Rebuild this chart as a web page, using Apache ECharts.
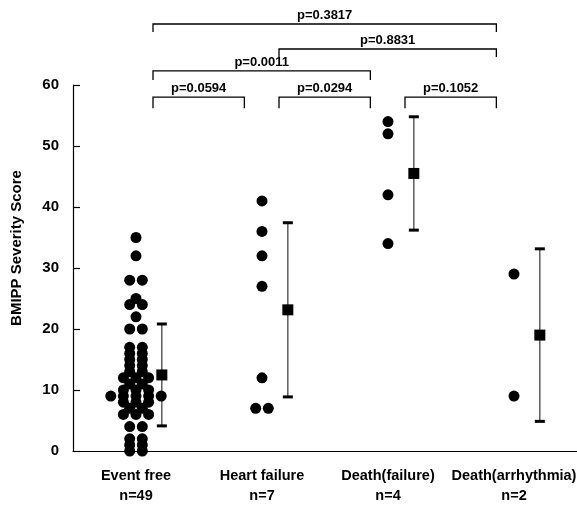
<!DOCTYPE html>
<html>
<head>
<meta charset="utf-8">
<script src="https://cdn.jsdelivr.net/npm/echarts@6/dist/echarts.min.js"></script>
<style>
  html, body { margin: 0; padding: 0; background: #fff; }
  #chart { width: 577px; height: 512px; }
</style>
</head>
<body>
<div id="chart"></div>
<script>
// Groups shown along the horizontal axis
const groups = ['Event free', 'Heart failure', 'Death(failure)', 'Death(arrhythmia)'];

// BMIPP severity score of every patient, one array per group
const eventFree = [35, 32, 28, 28, 25, 24, 24, 22, 20, 20, 17, 17, 16, 16, 15, 15, 14, 14,
  13, 13, 12, 12, 12, 11, 11, 10, 10, 10, 9, 9, 9, 9, 9, 8, 8, 8, 7, 7, 6, 6, 6,
  4, 4, 2, 2, 1, 1, 0, 0];
const heartFailure = [41, 36, 32, 27, 12, 7, 7];
const deathFailure = [54, 52, 42, 34];
const deathArrhythmia = [29, 9];

// Y axis ticks
const yTicks = [0, 10, 20, 30, 40, 50, 60];

// Pairwise comparisons: group indices and p values
const compFrom = [0, 1, 2, 0, 1, 0];
const compTo   = [1, 2, 3, 2, 3, 3];
const compP    = ['0.0594', '0.0294', '0.1052', '0.0011', '0.8831', '0.3817'];

const groupValues = [eventFree, heartFailure, deathFailure, deathArrhythmia];

// ---- layout helpers ----
const FONT = '"Liberation Sans", Arial, Helvetica, sans-serif';
const dotStep = 0.1;        // horizontal spacing of equal values (in group units)
const statOffset = 0.205;   // mean ± SD marker sits to the right of the dots
const bracketLevel = [0, 0, 0, 1, 2, 3];
const levelY = [58.0, 62.3, 65.9, 70.0];
const levelDrop = [1.8, 1.5, 1.3, 1.3];
const insetL = 0.135, insetR = 0.14;

// Dot plot: equal values are spread symmetrically around the group centre
const dots = [];
groupValues.forEach((vals, g) => {
  const counts = {};
  vals.forEach(v => { counts[v] = (counts[v] || 0) + 1; });
  const seen = {};
  vals.forEach(v => {
    const k = seen[v] || 0;
    seen[v] = k + 1;
    const off = (k - (counts[v] - 1) / 2) * dotStep;
    dots.push([g + off, v]);
  });
});

// Mean and sample standard deviation per group
const stats = groupValues.map((vals, g) => {
  const n = vals.length;
  const mean = vals.reduce((a, b) => a + b, 0) / n;
  const sd = Math.sqrt(vals.reduce((a, b) => a + (b - mean) * (b - mean), 0) / (n - 1));
  return [g + statOffset, mean, sd];
});

const chart = echarts.init(document.getElementById('chart'));
chart.setOption({
  animation: false,
  backgroundColor: '#fff',
  grid: { left: 73, right: 0, top: 85, bottom: 61, containLabel: false, outerBoundsMode: 'none' },
  xAxis: [
    {
      type: 'category',
      data: groups,
      boundaryGap: true,
      axisLine: { show: true, onZero: false, lineStyle: { color: '#000', width: 1.2 } },
      axisTick: { show: false },
      splitLine: { show: false },
      axisLabel: {
        interval: 0,
        margin: 15,
        color: '#000',
        fontFamily: FONT,
        fontWeight: 'bold',
        fontSize: 14.5,
        lineHeight: 20,
        formatter: (name, i) => name + '\nn=' + groupValues[i].length
      }
    },
    {
      type: 'value',
      min: -0.5,
      max: 3.5,
      show: false
    }
  ],
  yAxis: {
    type: 'value',
    min: yTicks[0],
    max: yTicks[yTicks.length - 1],
    interval: yTicks[1] - yTicks[0],
    axisLine: { show: true, onZero: false, lineStyle: { color: '#000', width: 1.2 } },
    axisTick: { show: true, inside: true, length: 7, lineStyle: { color: '#000', width: 1.2 } },
    splitLine: { show: false },
    axisLabel: {
      margin: 14,
      color: '#000',
      fontFamily: FONT,
      fontWeight: 'bold',
      fontSize: 15
    }
  },
  graphic: [
    {
      type: 'text',
      x: 17,
      y: 248,
      rotation: Math.PI / 2,
      style: {
        text: 'BMIPP Severity Score',
        font: 'bold 15px ' + FONT,
        fill: '#000',
        align: 'center',
        verticalAlign: 'middle'
      }
    }
  ],
  series: [
    {
      name: 'patients',
      type: 'scatter',
      xAxisIndex: 1,
      data: dots,
      symbol: 'circle',
      symbolSize: 11,
      itemStyle: { color: '#000', opacity: 1 },
      z: 3
    },
    {
      name: 'sd',
      type: 'custom',
      xAxisIndex: 1,
      data: stats,
      renderItem: (params, api) => {
        const x = api.value(0), m = api.value(1), s = api.value(2);
        const top = api.coord([x, m + s]);
        const bot = api.coord([x, m - s]);
        const capW = 10, capH = 3;
        return {
          type: 'group',
          children: [
            { type: 'line', shape: { x1: top[0], y1: top[1], x2: bot[0], y2: bot[1] },
              style: { stroke: '#444', lineWidth: 1.3 } },
            { type: 'rect', shape: { x: top[0] - capW / 2, y: top[1] - capH / 2, width: capW, height: capH },
              style: { fill: '#000' } },
            { type: 'rect', shape: { x: bot[0] - capW / 2, y: bot[1] - capH / 2, width: capW, height: capH },
              style: { fill: '#000' } }
          ]
        };
      },
      z: 2
    },
    {
      name: 'mean',
      type: 'scatter',
      xAxisIndex: 1,
      data: stats.map(s => [s[0], s[1]]),
      symbol: 'rect',
      symbolSize: 11,
      itemStyle: { color: '#000', opacity: 1 },
      z: 4
    },
    {
      name: 'comparisons',
      type: 'custom',
      xAxisIndex: 1,
      clip: false,
      data: compP.map((p, i) => [compFrom[i], 0]),
      renderItem: (params, api) => {
        const i = params.dataIndex;
        const lvl = bracketLevel[i];
        const yTop = levelY[lvl], drop = levelDrop[lvl];
        const a = compFrom[i] + insetL, b = compTo[i] - insetR;
        const p1 = api.coord([a, yTop - drop]);
        const p2 = api.coord([a, yTop]);
        const p3 = api.coord([b, yTop]);
        const p4 = api.coord([b, yTop - drop]);
        return {
          type: 'group',
          children: [
            { type: 'polyline', shape: { points: [p1, p2, p3, p4] },
              style: { stroke: '#000', lineWidth: 1.3, fill: null } },
            { type: 'text', x: (p2[0] + p3[0]) / 2, y: p2[1] - 2,
              style: { text: 'p=' + compP[i], font: 'bold 13px ' + FONT, fill: '#000',
                       align: 'center', verticalAlign: 'bottom' } }
          ]
        };
      },
      z: 5
    }
  ]
});
</script>
</body>
</html>
